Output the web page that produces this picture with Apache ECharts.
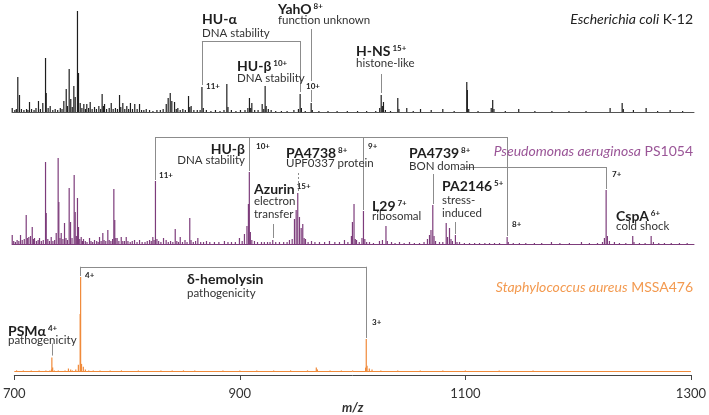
<!DOCTYPE html>
<html><head><meta charset="utf-8">
<script src="https://cdn.jsdelivr.net/npm/echarts@6/dist/echarts.min.js"></script>
<style>html,body{margin:0;padding:0;background:#fff}#c{width:709px;height:415px}</style>
</head><body><div id="c"></div>
<script>
// ---- data: [m/z, relative intensity] ----
const xTicks = [700, 900, 1100, 1300];
const ecoliPeaks = [[700.2,4],[702.5,2],[703.8,3],[705.1,35],[706.6,17],[708.3,3],[710.5,2],[712.8,3],[714.0,2],[715.4,10],[717.2,3],[719.4,2],[721.1,4],[723.3,11],[725.0,3],[727.1,9],[729.5,54],[730.1,19],[731.8,4],[733.6,6],[735.9,2],[738.0,3],[740.2,2],[742.5,4],[744.0,3],[745.6,11],[747.7,23],[748.8,6],[750.3,43],[751.7,13],[753.0,5],[754.4,26],[755.6,15],[757.6,101],[758.5,39],[760.0,9],[761.5,4],[763.2,8],[764.6,3],[765.8,8],[767.4,4],[768.8,10],[770.5,3],[772.6,5],[774.3,3],[776.4,6],[778.0,3],[779.3,18],[780.4,6],[781.4,8],[783.2,3],[785.5,4],[787.3,9],[789.0,3],[791.0,4],[792.8,3],[794.6,17],[795.7,5],[797.5,9],[799.2,3],[801.0,6],[802.6,3],[804.2,9],[806.0,3],[808.0,8],[810.1,3],[812.2,8],[814.0,2],[816.0,2],[818.1,3],[821.0,2],[824.0,1],[827.5,2],[830.5,2],[833.0,3],[835.7,8],[837.4,14],[839.2,19],[840.6,11],[843.0,10],[844.5,3],[845.9,4],[848.0,2],[850.3,3],[852.5,2],[855.3,16],[856.4,5],[857.6,6],[860.0,2],[863.0,2],[865.5,2],[867.1,25],[868.3,4],[871.0,2],[875.0,1],[879.0,2],[883.0,1],[886.5,2],[889.0,28],[890.0,5],[893.0,2],[897.0,1],[901.0,2],[905.0,2],[907.5,4],[908.9,14],[910.0,4],[911.0,9],[913.5,2],[916.5,2],[920.1,8],[921.5,3],[922.7,26],[923.6,6],[925.5,3],[928.0,2],[932.0,1],[937.0,1],[942.0,1],[948.0,2],[952.0,3],[953.5,18],[954.6,4],[958.0,1],[963.2,9],[964.2,2],[970.0,1],[978.0,1],[986.0,1],[995.0,1],[1004.0,1],[1012.0,1],[1020.0,1],[1023.5,4],[1024.8,17],[1025.8,6],[1026.8,10],[1028.5,2],[1033.0,1],[1039.4,14],[1040.4,3],[1047.3,4],[1053.0,1],[1059.4,3],[1068.8,2],[1079.0,3],[1089.0,1],[1100.1,30],[1100.6,22],[1101.8,3],[1110.0,1],[1121.6,4],[1122.9,12],[1124.0,3],[1134.0,1],[1145.8,3],[1160.0,1],[1175.0,1],[1190.0,1],[1205.0,1],[1226.2,4],[1236.8,9],[1237.8,3],[1246.7,2],[1257.9,4],[1268.0,1],[1279.0,2],[1290.0,1]];
const pseudoPeaks = [[700.2,9],[701.5,3],[703.0,2],[704.5,4],[706.0,3],[707.5,9],[709.0,4],[710.8,5],[712.5,29],[713.5,6],[714.8,7],[716.3,8],[717.8,17],[718.8,5],[719.8,6],[721.5,3],[723.0,4],[724.2,6],[725.8,3],[727.5,4],[729.5,82],[730.1,31],[731.5,5],[733.0,3],[734.5,7],[736.0,3],[737.5,4],[738.9,11],[740.6,86],[741.2,42],[742.2,6],[743.3,11],[744.8,5],[746.2,21],[747.5,6],[748.8,4],[750.3,56],[751.5,22],[752.8,6],[754.7,69],[755.6,32],[756.6,8],[757.6,46],[758.5,17],[759.6,5],[760.9,7],[762.0,3],[762.9,5],[764.5,3],[766.0,2],[768.2,6],[769.5,3],[771.0,2],[772.6,4],[774.5,3],[775.8,2],[777.0,7],[778.4,3],[779.9,11],[781.0,4],[782.5,3],[784.3,14],[785.5,4],[787.0,3],[788.5,5],[789.6,55],[790.4,24],[791.3,6],[792.5,6],[794.0,3],[796.1,7],[797.5,3],[799.0,3],[800.5,7],[802.0,3],[804.0,2],[805.8,3],[807.8,4],[810.0,2],[812.2,4],[814.5,2],[817.0,2],[819.0,3],[821.0,4],[822.5,3],[823.9,7],[825.0,4],[826.2,63],[827.5,5],[829.0,3],[831.0,2],[833.3,6],[835.6,4],[837.5,2],[839.5,3],[841.5,2],[843.6,15],[845.0,3],[846.5,2],[848.0,7],[850.0,2],[852.2,4],[854.0,2],[856.4,26],[857.5,4],[859.5,2],[861.5,3],[863.5,6],[866.0,2],[868.5,2],[871.1,3],[874.0,2],[878.1,2],[882.0,2],[886.9,3],[890.0,2],[893.1,2],[896.5,2],[900.1,6],[902.5,3],[904.5,10],[906.7,18],[908.0,40],[908.8,72],[909.7,12],[911.0,4],[913.3,3],[916.0,2],[919.5,2],[922.0,2],[924.8,2],[927.0,2],[929.4,4],[932.0,2],[935.3,2],[939.0,2],[942.0,2],[944.1,4],[946.5,5],[948.5,25],[950.0,34],[951.4,51],[952.9,27],[954.4,16],[955.8,20],[957.0,6],[958.2,5],[960.5,2],[963.5,3],[966.5,2],[970.5,2],[975.0,2],[979.3,3],[984.0,2],[988.1,2],[992.5,4],[995.5,2],[998.6,8],[999.5,22],[1000.9,40],[1002.0,5],[1003.1,4],[1005.5,2],[1007.9,6],[1009.2,33],[1010.4,5],[1012.0,2],[1014.5,2],[1018.0,1],[1023.3,3],[1025.9,4],[1029.0,18],[1030.2,3],[1033.9,2],[1037.0,1],[1040.9,2],[1045.0,1],[1049.7,2],[1054.0,1],[1058.5,1],[1062.5,2],[1065.5,5],[1067.3,9],[1068.6,14],[1070.2,39],[1071.3,8],[1072.6,3],[1076.1,2],[1079.0,2],[1082.0,21],[1083.2,7],[1084.9,16],[1086.2,5],[1087.5,3],[1090.1,9],[1091.5,2],[1093.7,2],[1098.0,1],[1102.5,1],[1107.0,1],[1111.3,1],[1116.0,1],[1120.1,1],[1124.5,1],[1128.9,1],[1135.6,7],[1136.6,2],[1141.0,1],[1146.4,1],[1152.0,1],[1159.6,1],[1166.0,1],[1174.6,2],[1182.0,1],[1190.4,1],[1201.0,2],[1208.0,1],[1215.1,1],[1219.5,2],[1221.2,6],[1222.7,54],[1223.8,8],[1225.6,3],[1230.0,2],[1234.4,1],[1240.0,1],[1246.1,8],[1247.2,2],[1252.0,1],[1257.0,1],[1262.3,8],[1264.3,2],[1269.0,1],[1274.0,1],[1280.0,1],[1287.2,1],[1294.0,1]];
const staphPeaks = [[702.0,1],[708.0,1],[715.0,1],[722.0,1],[728.0,1],[731.5,1],[733.0,2],[733.3,15],[734.0,4],[735.5,1],[739.0,1],[745.0,1],[748.0,3],[750.0,2],[751.5,1],[754.5,2],[756.8,7],[758.4,62],[758.8,102],[759.6,8],[761.2,5],[763.0,2],[766.0,1],[770.0,1],[776.0,1],[785.0,1],[795.0,1],[810.0,1],[830.0,1],[840.0,1],[850.0,1],[860.0,1],[885.0,1],[900.0,1],[915.0,1],[930.0,1],[945.0,1],[960.0,1],[967.8,4],[968.8,2],[980.0,1],[990.0,1],[1000.0,1],[1011.5,4],[1012.1,35],[1012.8,6],[1014.8,3],[1017.2,2],[1025.0,1],[1040.0,1],[1060.0,1],[1080.0,1],[1100.0,1],[1130.0,1],[1160.0,1]];

// annotated ion positions (m/z) used by connector lines
const huAlphaEc = [867.1, 953.5];      // 11+, 10+
const yahoEc = 963.2, hnsEc = 1024.8;
const huBetaPa = [826.2, 908.8, 1009.2, 1135.6]; // 11+,10+,9+,8+
const pa4738 = 951.4, azurin = 929.4, pa4739 = [1070.2, 1222.7], pa2146 = 1090.1;
const deltaHem = [758.8, 1012.1], psma = 733.3;

const FONT = 'Lato, "Open Sans", sans-serif';
const BLACK = '#1e1e1e', PURPLE = '#7d3c7b', PURPLE_T = '#9a5597', ORANGE = '#f08a3a', ORANGE_T = '#f39a50', GRAY = '#8c8c8c';

const chart = echarts.init(document.getElementById('c'), null, {renderer: 'canvas'});

function seg(a, b, dashed) {
  const s = [{coord: a}, {coord: b}];
  if (dashed) s[0].lineStyle = {type: [2, 2]};
  return s;
}
function ml(data, color) {
  return {silent: true, symbol: ['none', 'none'], label: {show: false}, animation: false,
    lineStyle: {color: color || GRAY, width: 1, type: 'solid'}, data: data};
}
const xBase = {type: 'value', min: 700, max: 1300, interval: 200, splitLine: {show: false}};
const yBase = {type: 'value', show: false, splitLine: {show: false}};

const option = {
  animation: false,
  grid: [
    {left: 12, right: 15, top: 2, height: 110},
    {left: 12, right: 15, top: 134, height: 110},
    {left: 12, right: 15, top: 264, height: 120}
  ],
  xAxis: [
    Object.assign({}, xBase, {gridIndex: 0, axisLine: {lineStyle: {color: '#555', width: 1}}, axisTick: {show: false}, axisLabel: {show: false}}),
    Object.assign({}, xBase, {gridIndex: 1, axisLine: {lineStyle: {color: PURPLE, width: 1}}, axisTick: {show: false}, axisLabel: {show: false}}),
    Object.assign({}, xBase, {gridIndex: 2, axisLine: {onZero: false, lineStyle: {color: '#444', width: 1}},
      axisTick: {show: true, length: 5, lineStyle: {color: '#444'}},
      axisLabel: {show: true, color: '#333', fontSize: 13, fontFamily: FONT, margin: 12, formatter: v => String(v)},
      name: 'm/z', nameLocation: 'middle', nameGap: 26,
      nameTextStyle: {fontStyle: 'italic', fontWeight: 'bold', fontSize: 13, color: '#333', fontFamily: FONT}})
  ],
  yAxis: [
    Object.assign({}, yBase, {gridIndex: 0, min: 0, max: 110}),
    Object.assign({}, yBase, {gridIndex: 1, min: 0, max: 110}),
    Object.assign({}, yBase, {gridIndex: 2, min: -4, max: 116})
  ],
  series: [
    {type: 'bar', xAxisIndex: 0, yAxisIndex: 0, data: ecoliPeaks, barWidth: 1.2, itemStyle: {color: BLACK},
      markLine: ml([
        seg([huAlphaEc[0], 27], [huAlphaEc[0], 71]), seg([huAlphaEc[0], 71], [huAlphaEc[1], 71]), seg([huAlphaEc[1], 71], [huAlphaEc[1], 20]),
        seg([yahoEc, 83], [yahoEc, 31]), seg([yahoEc, 22], [yahoEc, 10]),
        seg([hnsEc, 38], [hnsEc, 19])
      ])},
    {type: 'bar', xAxisIndex: 1, yAxisIndex: 1, data: pseudoPeaks, barWidth: 1.2, itemStyle: {color: PURPLE},
      markLine: ml([
        seg([huBetaPa[0], 64], [huBetaPa[0], 107]), seg([huBetaPa[0], 107], [huBetaPa[3], 107]),
        seg([huBetaPa[1], 107], [huBetaPa[1], 73]), seg([huBetaPa[2], 107], [huBetaPa[2], 34]), seg([huBetaPa[3], 107], [huBetaPa[3], 8]),
        seg([pa4738, 71], [pa4738, 53], true),
        seg([azurin, 20], [azurin, 6]),
        seg([pa4739[0], 70], [pa4739[0], 40]),
        seg([1098, 77], [pa4739[1], 77]), seg([pa4739[1], 77], [pa4739[1], 55]),
        seg([pa2146, 22], [pa2146, 10])
      ])},
    {type: 'bar', xAxisIndex: 2, yAxisIndex: 2, data: staphPeaks, barWidth: 1.2, itemStyle: {color: ORANGE},
      markLine: {silent: true, symbol: ['none', 'none'], label: {show: false}, animation: false,
        data: [
          [{coord: [700, 0], lineStyle: {color: ORANGE, width: 1, type: 'solid'}}, {coord: [1300, 0]}],
          seg([deltaHem[0], 103], [deltaHem[0], 113]), seg([deltaHem[0], 113], [deltaHem[1], 113]), seg([deltaHem[1], 113], [deltaHem[1], 36]),
          seg([psma, 30], [psma, 17])
        ], lineStyle: {color: GRAY, width: 1, type: 'solid'}}}
  ]
};

function lbl(x, y, name, charge, color, align) {
  const c = color || '#1e1e1e';
  return {type: 'text', x: x, y: y, z: 100, silent: true, style: {
    text: '{b|' + name + '}' + (charge ? '{s| ' + charge + '}' : ''),
    align: align || 'left', verticalAlign: 'top', font: 'bold 14px ' + FONT, fill: c,
    rich: {b: {fontSize: 14, fontWeight: 'bold', fontFamily: FONT, fill: c, lineHeight: 17, verticalAlign: 'bottom'},
           s: {fontSize: 8, fontWeight: 'bold', fontFamily: FONT, fill: c, lineHeight: 10, verticalAlign: 'top', padding: [3, 0, 0, 0]}}}};
}
function sub(x, y, text, align) {
  return {type: 'text', x: x, y: y, z: 100, silent: true, style: {text: text, align: align || 'left', verticalAlign: 'top',
    font: '11.5px ' + FONT, fill: '#333', lineHeight: 13}};
}
function chg(x, y, text) {
  return {type: 'text', x: x, y: y, z: 100, silent: true, style: {text: text, align: 'left', verticalAlign: 'top',
    font: 'bold 8px ' + FONT, fill: '#222', backgroundColor: '#fff', padding: [0, 1, 0, 1]}};
}
function title(y, it, rest, color) {
  return {type: 'text', x: 693, y: y, z: 100, silent: true, style: {
    text: '{i|' + it + '}' + (rest ? '{n| ' + rest + '}' : ''), align: 'right', verticalAlign: 'top', fill: color,
    rich: {i: {fontSize: 14, fontStyle: 'italic', fontFamily: FONT, fill: color}, n: {fontSize: 14, fontFamily: FONT, fill: color}}}};
}

option.graphic = [
  // E. coli
  lbl(202, 9, 'HU-α'), sub(202, 27, 'DNA stability'),
  lbl(278, -1, 'YahO', '8+'), sub(278, 14, 'function unknown'),
  lbl(237, 56, 'HU-β', '10+'), sub(237, 72, 'DNA stability'),
  lbl(356, 41, 'H-NS', '15+'), sub(356, 57, 'histone-like'),
  chg(205, 82, '11+'), chg(305, 82, '10+'),
  title(12, 'Escherichia coli', 'K-12', '#222'),
  // P. aeruginosa
  lbl(245, 139, 'HU-β', null, '#1e1e1e', 'right'), sub(245, 154, 'DNA stability', 'right'),
  chg(158, 171, '11+'), chg(255, 142, '10+'), chg(367, 142, '9+'), chg(511, 220, '8+'), chg(611, 170, '7+'),
  lbl(286, 143, 'PA4738', '8+'), sub(286, 157, 'UPF0337 protein'),
  lbl(254, 179, 'Azurin', '15+'), sub(254, 195, 'electron\ntransfer'),
  lbl(409, 143, 'PA4739', '8+'), sub(409, 160, 'BON domain'),
  lbl(372, 196, 'L29', '7+'), sub(372, 210, 'ribosomal'),
  lbl(442, 176, 'PA2146', '5+'), sub(442, 194, 'stress-\ninduced'),
  lbl(616, 206, 'CspA', '6+'), sub(616, 220, 'cold shock'),
  title(144, 'Pseudomonas aeruginosa', 'PS1054', PURPLE_T),
  // S. aureus
  chg(84, 271, '4+'), chg(371, 318, '3+'),
  lbl(187, 269, 'δ-hemolysin'), sub(187, 287, 'pathogenicity'),
  lbl(8, 321, 'PSMα', '4+'), sub(8, 334, 'pathogenicity'),
  title(280, 'Staphylococcus aureus', 'MSSA476', ORANGE_T)
];

chart.setOption(option);
</script>
</body></html>
